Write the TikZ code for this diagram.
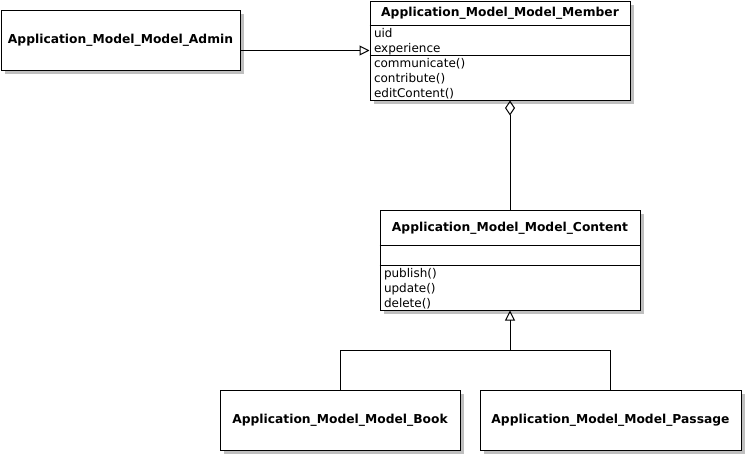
\documentclass[tikz,border=0pt]{standalone}
\usepackage{fontspec}
\setmainfont{DejaVu Sans}
\usetikzlibrary{arrows.meta,shadows}
\begin{document}
\begin{tikzpicture}[x=1pt,y=-1pt,line width=1pt,
  classbox/.style={draw,fill=white,inner sep=0pt,font=\fontsize{12.3}{15}\selectfont\bfseries,
    drop shadow={shadow xshift=4pt,shadow yshift=-4pt,fill=black!25,opacity=1}},
  classname/.style={inner sep=0pt,font=\fontsize{12.3}{15}\selectfont\bfseries},
  members/.style={anchor=north west,align=left,inner xsep=3.5pt,inner ysep=1.5pt,font=\fontsize{12}{15}\selectfont},
  inherit/.style={-{Triangle[open,length=10pt,width=10pt]}},
  aggregate/.style={{Diamond[open,length=15pt,width=10pt]}-}]
  \useasboundingbox (0,0) rectangle (745,455);
  \node[classbox,minimum width=239pt,minimum height=60pt] (Admin) at (120.5,40) {Application\_Model\_Model\_Admin};
  \node[classbox,minimum width=260pt,minimum height=99pt] (Member) at (500,50.5) {};
  \node[classname] (MemberName) at (500,13) {Application\_Model\_Model\_Member};
  \node[members] (MemberAttr) at (370,25) {\strut uid\\\strut experience};
  \node[members] (MemberOps) at (370,55) {\strut communicate()\\\strut contribute()\\\strut editContent()};
  \draw (Member.west |- MemberAttr.north) -- (Member.east |- MemberAttr.north);
  \draw (Member.west |- MemberOps.north) -- (Member.east |- MemberOps.north);
  \node[classbox,minimum width=260pt,minimum height=100pt] (Content) at (510,260) {};
  \node[classname] (ContentName) at (510,228) {Application\_Model\_Model\_Content};
  \node[members] (ContentOps) at (380,265) {\strut publish()\\\strut update()\\\strut delete()};
  \draw (Content.west |- 0,245) -- (Content.east |- 0,245);
  \draw (Content.west |- ContentOps.north) -- (Content.east |- ContentOps.north);
  \node[classbox,minimum width=240pt,minimum height=60pt] (Book) at (340,420) {Application\_Model\_Model\_Book};
  \node[classbox,minimum width=261pt,minimum height=60pt] (Passage) at (610.5,420) {Application\_Model\_Model\_Passage};
  \coordinate (Fork) at (Content.south |- 0,350);
  \draw[inherit] (Admin.east |- Member.west) -- (Member.west);
  \draw[aggregate] (Content.north |- Member.south) -- (Content.north);
  \draw[inherit] (Book.north) |- (Fork) -- (Content.south);
  \draw (Passage.north) |- (Fork);
\end{tikzpicture}
\end{document}
